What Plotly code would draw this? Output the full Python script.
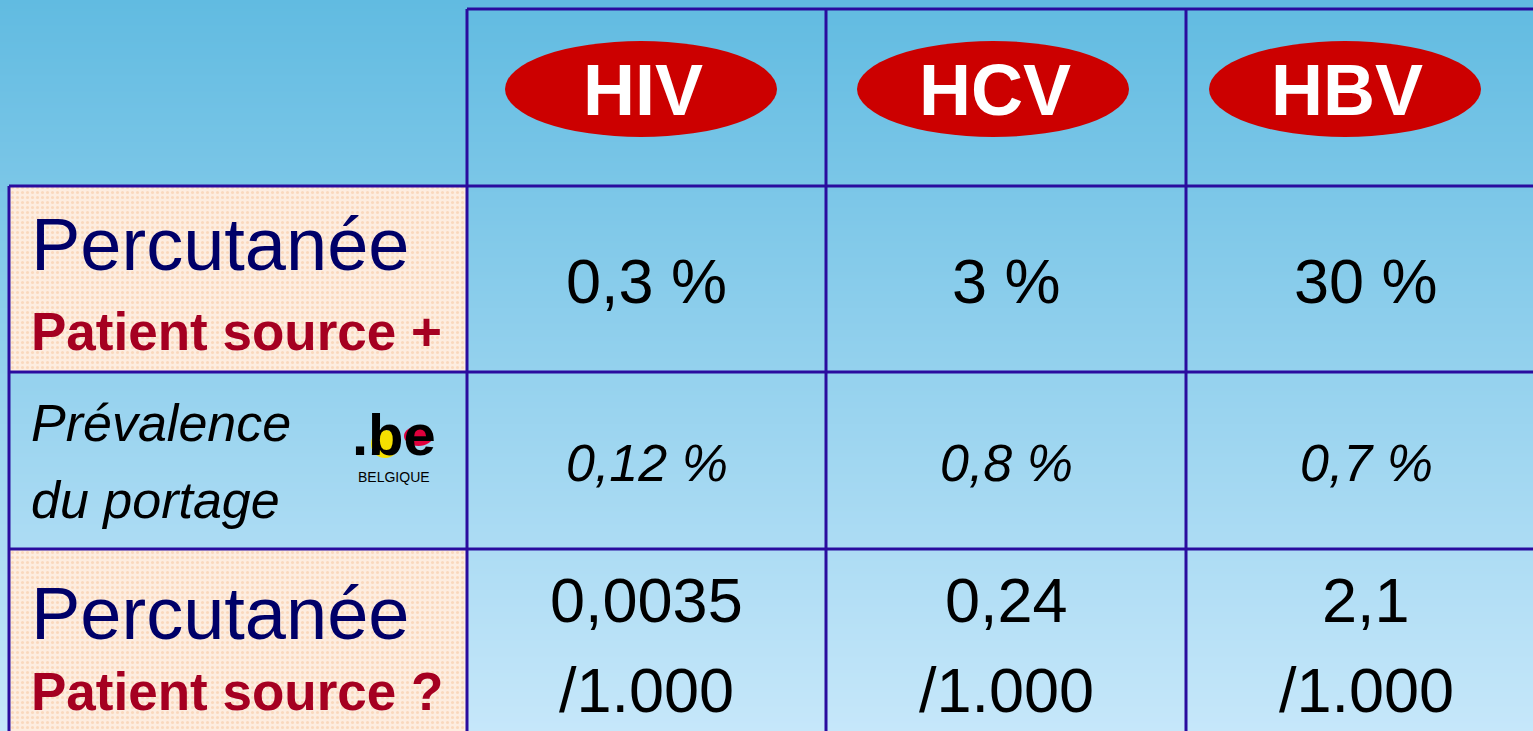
"""
Risk table (HIV / HCV / HBV) drawn as a Plotly figure in pixel coordinates.
"""

import plotly.graph_objects as go


W, H = 1533, 731

# table content
VIRUSES = ['HIV', 'HCV', 'HBV']
ROW1_VALUES = ['0,3 %', '3 %', '30 %']
ROW2_VALUES = ['0,12 %', '0,8 %', '0,7 %']
ROW3_TOP = ['0,0035', '0,24', '2,1']
ROW3_BOTTOM = ['/1.000', '/1.000', '/1.000']
ROW_TITLES = ['Percutanée', 'Prévalence', 'Percutanée']
ROW_SUBTITLES = ['Patient source +', 'du portage', 'Patient source ?']

# grid geometry (pixels)
COL_EDGES = [9, 467, 826, 1186, 1546]
ROW_EDGES = [9, 186, 372, 549, 745]
ELLIPSE_X0 = 641
ELLIPSE_STEP = 352

FONT = 'Liberation Sans, Arial, sans-serif'
LINE_COLOR = '#2A0C9E'
NAVY = '#000068'
DARK_RED = '#A50021'
RED = '#CC0000'


def col_center(i):
    return (COL_EDGES[i + 1] + COL_EDGES[i + 2]) / 2


fig = go.Figure()

# background gradient
fig.add_trace(go.Heatmap(
    x=[0, W], y=[0, H], z=[[0, 0], [1, 1]],
    zsmooth='best', showscale=False, hoverinfo='skip',
    colorscale=[[0, '#61BBE1'], [1, '#C6E7FA']]
))

# peach dotted row header cells (rows 1 and 3)
fig.add_trace(go.Bar(
    x=[(COL_EDGES[0] + COL_EDGES[1]) / 2] * 2,
    y=[ROW_EDGES[2] - ROW_EDGES[1], ROW_EDGES[4] - ROW_EDGES[3]],
    base=[ROW_EDGES[1], ROW_EDGES[3]],
    width=COL_EDGES[1] - COL_EDGES[0],
    marker=dict(
        color='#FDEDE0',
        line=dict(width=0),
        pattern=dict(shape='.', size=5, solidity=0.3, fgcolor='#F6C39A', fillmode='overlay')
    ),
    hoverinfo='skip'
))

# grid lines
line = dict(color=LINE_COLOR, width=3)
fig.add_shape(type='line', x0=COL_EDGES[1], x1=W + 10, y0=ROW_EDGES[0], y1=ROW_EDGES[0], line=line)
for y in ROW_EDGES[1:4]:
    fig.add_shape(type='line', x0=COL_EDGES[0], x1=W + 10, y0=y, y1=y, line=line)
fig.add_shape(type='line', x0=COL_EDGES[0], x1=COL_EDGES[0], y0=ROW_EDGES[1], y1=H + 10, line=line)
for x in COL_EDGES[1:4]:
    fig.add_shape(type='line', x0=x, x1=x, y0=ROW_EDGES[0], y1=H + 10, line=line)

# header ellipses + labels
for i, v in enumerate(VIRUSES):
    cx = ELLIPSE_X0 + i * ELLIPSE_STEP
    fig.add_shape(type='circle', x0=cx - 136, x1=cx + 136, y0=41, y1=137,
                  fillcolor=RED, line=dict(width=0))
    fig.add_annotation(x=cx + 2, y=90, text=f'<b>{v}</b>', showarrow=False,
                       font=dict(family=FONT, size=72, color='white'))

# cell values
for i in range(3):
    cx = col_center(i)
    fig.add_annotation(x=cx, y=281, text=ROW1_VALUES[i], showarrow=False,
                       font=dict(family=FONT, size=63, color='black'))
    fig.add_annotation(x=cx, y=463, text=f'<i>{ROW2_VALUES[i]}</i>', showarrow=False,
                       font=dict(family=FONT, size=52, color='black'))
    fig.add_annotation(x=cx, y=600, text=ROW3_TOP[i], showarrow=False,
                       font=dict(family=FONT, size=63, color='black'))
    fig.add_annotation(x=cx, y=690, text=ROW3_BOTTOM[i], showarrow=False,
                       font=dict(family=FONT, size=63, color='black'))

# row headers
for y_title, y_sub, r in [(244, 331, 0), (613, 691, 2)]:
    fig.add_annotation(x=29, y=y_title, xanchor='left', text=ROW_TITLES[r], showarrow=False,
                       font=dict(family=FONT, size=74, color=NAVY))
    fig.add_annotation(x=29, y=y_sub, xanchor='left', text=f'<b>{ROW_SUBTITLES[r]}</b>',
                       showarrow=False, font=dict(family=FONT, size=53, color=DARK_RED))

fig.add_annotation(x=29, y=423, xanchor='left', text=f'<i>{ROW_TITLES[1]}</i>', showarrow=False,
                   font=dict(family=FONT, size=52, color='black'))
fig.add_annotation(x=29, y=500, xanchor='left', text=f'<i>{ROW_SUBTITLES[1]}</i>', showarrow=False,
                   font=dict(family=FONT, size=52, color='black'))

# .be logo
fig.add_shape(type='circle', x0=371, x1=399, y0=430, y1=458, fillcolor='#F5E000', line=dict(width=0))
fig.add_shape(type='circle', x0=404, x1=433, y0=426, y1=446, fillcolor='#E0003C', line=dict(width=0))
fig.add_annotation(x=394, y=434, text='<b>.be</b>', showarrow=False,
                   font=dict(family=FONT, size=58, color='black'))
fig.add_annotation(x=394, y=477, text='BELGIQUE', showarrow=False,
                   font=dict(family=FONT, size=14, color='black'))

fig.update_layout(
    width=W, height=H,
    margin=dict(l=0, r=0, t=0, b=0),
    showlegend=False,
    paper_bgcolor='#9ED4F0',
    plot_bgcolor='#9ED4F0',
    bargap=0
)
fig.update_xaxes(range=[0, W], visible=False, fixedrange=True)
fig.update_yaxes(range=[H, 0], visible=False, fixedrange=True)

fig.write_html("out.html", config={'displayModeBar': False},
               post_script="document.body.style.margin='0';")
